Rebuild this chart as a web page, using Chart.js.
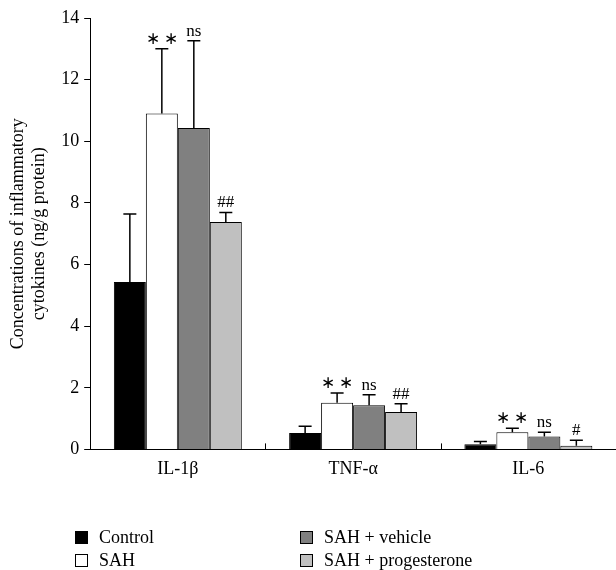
<!DOCTYPE html>
<html>
<head>
<meta charset="utf-8">
<script src="https://cdn.jsdelivr.net/npm/chart.js@4.4.0/dist/chart.umd.min.js"></script>
<style>
  body { margin: 0; background: #fff; }
  #wrap { position: relative; width: 616px; height: 570px; }
  #legend { position: absolute; left: 0; top: 527px; width: 616px; font-family: "Liberation Serif", serif; font-size: 18px; color: #000; }
  .item { position: absolute; display: flex; align-items: center; }
  .box { width: 13px; height: 13px; border: 1px solid #000; margin-right: 11px; box-sizing: border-box; }
</style>
</head>
<body>
<div id="wrap">
  <canvas id="grafico" width="616" height="570"></canvas>
  <div id="legend"></div>
</div>
<script>
const categorias = ["IL-1β", "TNF-α", "IL-6"];
const yTicks = [0, 2, 4, 6, 8, 10, 12, 14];

const nomes = ["Control", "SAH", "SAH + vehicle", "SAH + progesterone"];
const cores = ["#000000", "#ffffff", "#808080", "#c0c0c0"];

const control = [5.43, 0.53, 0.17];
const sah = [10.9, 1.51, 0.56];
const vehicle = [10.43, 1.43, 0.42];
const progesterone = [7.38, 1.21, 0.12];

const controlErr = [2.21, 0.22, 0.09];
const sahErr = [2.1, 0.32, 0.13];
const vehicleErr = [2.83, 0.34, 0.14];
const progesteroneErr = [0.31, 0.27, 0.18];

const controlMark = ["", "", ""];
const sahMark = ["∗ ∗", "∗ ∗", "∗ ∗"];
const vehicleMark = ["ns", "ns", "ns"];
const progesteroneMark = ["##", "##", "#"];

const valores = [control, sah, vehicle, progesterone];
const erros = [controlErr, sahErr, vehicleErr, progesteroneErr];
const marcas = [controlMark, sahMark, vehicleMark, progesteroneMark];

const fonte = "'Liberation Serif', serif";

// barras de erro (só para cima) e as marcas de significância
const errorBars = {
    id: "errorBars",
    afterDatasetsDraw(chart) {
        const ctx = chart.ctx;
        const y = chart.scales.y;
        ctx.save();
        chart.data.datasets.forEach((ds, i) => {
            const meta = chart.getDatasetMeta(i);
            meta.data.forEach((bar, j) => {
                const topo = y.getPixelForValue(ds.data[j] + ds.err[j]);
                ctx.strokeStyle = "#000";
                ctx.lineWidth = 1.5;
                ctx.beginPath();
                ctx.moveTo(bar.x, bar.y);
                ctx.lineTo(bar.x, topo);
                ctx.moveTo(bar.x - 6.5, topo);
                ctx.lineTo(bar.x + 6.5, topo);
                ctx.stroke();
                if (ds.mark[j]) {
                    ctx.fillStyle = "#000";
                    ctx.font = "17px " + fonte;
                    ctx.textAlign = "center";
                    ctx.textBaseline = "bottom";
                    ctx.fillText(ds.mark[j], bar.x, topo - 1);
                }
            });
        });
        ctx.restore();
    }
};

// tracinhos entre as categorias, para dentro do gráfico
const xMarks = {
    id: "xMarks",
    afterDraw(chart) {
        const ctx = chart.ctx;
        const x = chart.scales.x;
        const base = chart.chartArea.bottom;
        ctx.save();
        ctx.strokeStyle = "#000";
        ctx.lineWidth = 1;
        for (let i = 0; i < categorias.length - 1; i++) {
            const px = Math.round((x.getPixelForValue(i) + x.getPixelForValue(i + 1)) / 2) + 0.5;
            ctx.beginPath();
            ctx.moveTo(px, base);
            ctx.lineTo(px, base - 6);
            ctx.stroke();
        }
        ctx.restore();
    }
};

const ctx = document.getElementById("grafico").getContext("2d");
new Chart(ctx, {
    type: "bar",
    data: {
        labels: categorias,
        datasets: nomes.map((nome, i) => ({
            label: nome,
            data: valores[i],
            err: erros[i],
            mark: marcas[i],
            backgroundColor: cores[i],
            borderColor: "#000",
            borderWidth: 1,
            categoryPercentage: 0.73,
            barPercentage: 1,
        })),
    },
    options: {
        responsive: false,
        animation: false,
        devicePixelRatio: 1,
        layout: { padding: { left: 7, right: 0, top: 18, bottom: 89 } },
        plugins: { legend: { display: false }, tooltip: { enabled: false } },
        scales: {
            x: {
                grid: { display: false },
                border: { color: "#000", width: 1 },
                ticks: { color: "#000", font: { family: fonte, size: 18 }, padding: 1 },
            },
            y: {
                min: 0,
                max: 14,
                afterBuildTicks: (axis) => { axis.ticks = yTicks.map(v => ({ value: v })); },
                grid: { drawOnChartArea: false, tickLength: 6, color: "#000" },
                border: { color: "#000", width: 1 },
                ticks: { color: "#000", font: { family: fonte, size: 18 }, padding: 5 },
                title: {
                    display: true,
                    text: ["Concentrations of inflammatory", "cytokines (ng/g protein)"],
                    color: "#000",
                    font: { family: fonte, size: 18 },
                    padding: { top: 0, bottom: 6 },
                },
            },
        },
    },
    plugins: [errorBars, xMarks],
});

// legenda em duas colunas
const legend = document.getElementById("legend");
const posicoes = [[75, 0], [75, 23], [300, 0], [300, 23]];
nomes.forEach((nome, i) => {
    const item = document.createElement("div");
    item.className = "item";
    item.style.left = posicoes[i][0] + "px";
    item.style.top = posicoes[i][1] + "px";
    item.innerHTML = `<span class="box" style="background:${cores[i]}"></span><span>${nome}</span>`;
    legend.appendChild(item);
});
</script>
</body>
</html>
